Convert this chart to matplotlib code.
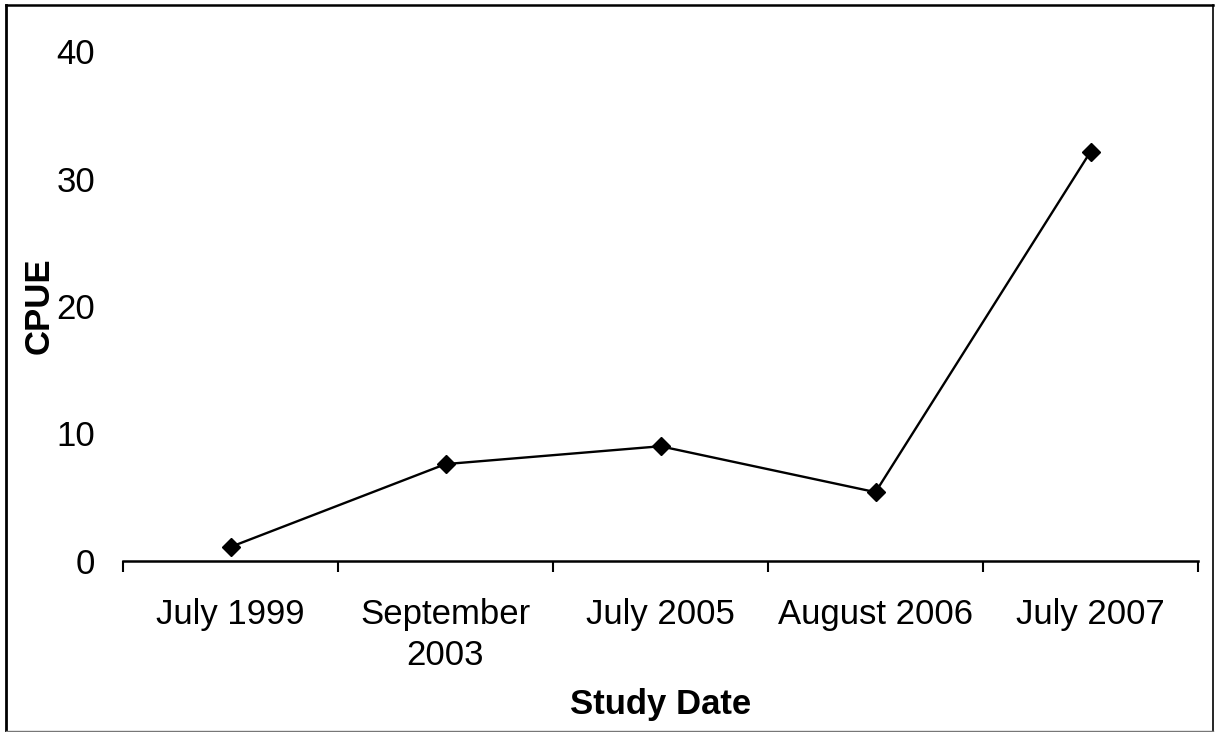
import matplotlib
matplotlib.use("Agg")
import matplotlib.pyplot as plt
from matplotlib.lines import Line2D

categories = ["July 1999", "September\n2003", "July 2005", "August 2006", "July 2007"]
cpue = [1.1, 7.6, 9.0, 5.4, 32.1]
yticks = [0, 10, 20, 30, 40]

plt.rcParams['font.family'] = ['Liberation Sans', 'DejaVu Sans']

W, H = 1218, 732
fig = plt.figure(figsize=(W / 100, H / 100), dpi=100)
ax_left, ax_right, ax_top, ax_bottom = 123, 1198, 51, 561
ax = fig.add_axes([ax_left / W, 1 - ax_bottom / H, (ax_right - ax_left) / W, (ax_bottom - ax_top) / H])

x = list(range(len(categories)))
ax.plot(x, cpue, color='black', lw=1.7, marker='D', markersize=9,
        markerfacecolor='black', markeredgecolor='black', clip_on=False)

ax.set_xlim(-0.5, len(categories) - 0.5)
ax.set_ylim(0, 40)
ax.set_yticks(yticks)
ax.set_yticklabels([str(v) for v in yticks], fontsize=25)
ax.tick_params(axis='y', length=0, pad=20)

ax.set_xticks(x)
ax.set_xticklabels(categories, fontsize=25, linespacing=1.33)
ax.set_xticks([i - 0.5 for i in range(len(categories) + 1)], minor=True)
ax.tick_params(axis='x', which='major', length=0, pad=26.5)
ax.tick_params(axis='x', which='minor', length=8, width=1.5, direction='out')

for s in ['top', 'right', 'left']:
    ax.spines[s].set_visible(False)
ax.spines['bottom'].set_linewidth(1.8)

ax.set_ylabel("CPUE", fontsize=25, fontweight='bold', labelpad=0.5)
ax.set_xlabel("Study Date", fontsize=25, fontweight='bold', labelpad=11)

# figure frame
def fl(x0, y0, x1, y1, color, lw):
    fig.add_artist(Line2D([x0 / W, x1 / W], [1 - y0 / H, 1 - y1 / H],
                          transform=fig.transFigure, color=color, lw=lw))

fl(6, 5, 6, 731, 'black', 2.0)
fl(6, 5, 1213, 5, 'black', 1.8)
fl(1213, 5, 1213, 731, 'black', 1.2)
fl(6, 730.5, 1213, 730.5, '#777777', 1.0)

fig.savefig("out.png", dpi=100)
